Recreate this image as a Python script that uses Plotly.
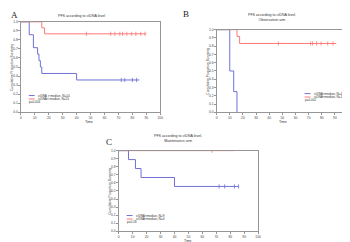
import plotly.graph_objects as go

# ---------------- data ----------------
# Panel A
a_hi_t = [0, 6, 9, 12, 13, 14, 15, 40, 85]
a_hi_s = [1.0, 0.857, 0.714, 0.643, 0.571, 0.5, 0.429, 0.357, 0.357]
a_hi_cens_t = [72, 74.5, 80, 83]
a_lo_t = [0, 15, 17, 90]
a_lo_s = [1.0, 0.933, 0.867, 0.867]
a_lo_cens_t = [47, 64.5, 67.5, 71, 73, 76, 79.5, 82.5, 86, 89]

# Panel B
b_hi_t = [0, 10, 13, 15.5]
b_hi_s = [1.0, 0.5, 0.25, 0.0]
b_lo_t = [0, 15.5, 17.5, 91]
b_lo_s = [1.0, 0.917, 0.833, 0.833]
b_lo_cens_t = [47, 71.5, 73, 76, 79.5, 84.5, 88.5]

# Panel C
c_hi_t = [0, 7, 12, 16, 40, 86]
c_hi_s = [1.0, 0.889, 0.778, 0.667, 0.556, 0.556]
c_hi_cens_t = [72, 76, 83, 86]
c_lo_t = [0, 83]
c_lo_s = [1.0, 1.0]
c_lo_cens_t = [67]

x_ticks = list(range(0, 101, 10))
y_ticks = [round(i / 10, 1) for i in range(0, 11)]

titles = ["PFS according to ctDNA level",
          "PFS according to ctDNA level,<br>Observation arm",
          "PFS according to ctDNA level,<br>Maintenance arm"]
legend_hi = ["ctDNA &gt; median, N=14", "ctDNA&gt;median, N=4", "ctDNA&gt;median, N=9"]
legend_lo = ["ctDNA&lt; median, N=15", "ctDNA&lt;median, N=12", "ctDNA&lt;median, N=4"]
pvals = ["p=0.004", "p=0.002", "p=0.18"]
letters = ["A", "B", "C"]

BLUE = "rgb(112,112,214)"
RED = "rgb(255,120,120)"
W, H = 350, 242

fig = go.Figure()

# plot areas in pixels: (left, right, top, bottom)
areas = [(12, 153, 12, 104), (210, 343, 20, 104), (111, 252, 143, 225)]

def px(x):
    return x / W

def py(y):
    return 1 - y / H

panels = [
    (a_hi_t, a_hi_s, a_hi_cens_t, a_lo_t, a_lo_s, a_lo_cens_t),
    (b_hi_t, b_hi_s, [], b_lo_t, b_lo_s, b_lo_cens_t),
    (c_hi_t, c_hi_s, c_hi_cens_t, c_lo_t, c_lo_s, c_lo_cens_t),
]

def surv_at(ts, ss, t):
    v = ss[0]
    for ti, si in zip(ts, ss):
        if ti <= t:
            v = si
    return v

for i, (ht, hs, hc, lt, ls, lc) in enumerate(panels):
    sfx = "" if i == 0 else str(i + 1)
    xa, ya = "x" + sfx, "y" + sfx
    fig.add_trace(go.Scatter(x=ht, y=hs, mode="lines", line=dict(color=BLUE, width=1, shape="hv"),
                             xaxis=xa, yaxis=ya, showlegend=False))
    fig.add_trace(go.Scatter(x=lt, y=ls, mode="lines", line=dict(color=RED, width=1, shape="hv"),
                             xaxis=xa, yaxis=ya, showlegend=False))
    if hc:
        fig.add_trace(go.Scatter(x=hc, y=[surv_at(ht, hs, t) for t in hc], mode="markers",
                                 marker=dict(symbol="line-ns-open", size=3, color=BLUE,
                                             line=dict(color=BLUE, width=0.8)),
                                 xaxis=xa, yaxis=ya, showlegend=False))
    if lc:
        fig.add_trace(go.Scatter(x=lc, y=[surv_at(lt, ls, t) for t in lc], mode="markers",
                                 marker=dict(symbol="line-ns-open", size=3, color=RED,
                                             line=dict(color=RED, width=0.8)),
                                 xaxis=xa, yaxis=ya, showlegend=False))

    l, r, t, b = areas[i]
    axis_common = dict(showgrid=False, zeroline=False, showline=True, mirror=True,
                       linecolor="rgb(150,150,150)", linewidth=0.8, ticks="outside", ticklen=1.5,
                       tickcolor="rgb(150,150,150)", tickwidth=0.6,
                       tickfont=dict(size=3.3, family="Liberation Sans", color="#444"))
    fig.update_layout(**{
        "xaxis" + sfx: dict(domain=[px(l), px(r)], anchor=ya, range=[0, 100], tickvals=x_ticks,
                            **axis_common),
        "yaxis" + sfx: dict(domain=[py(b), py(t)], anchor=xa, range=[0, 1.0], tickvals=y_ticks,
                            tickformat=".1f", **axis_common),
    })

annos = []
def txt(x, y, s, size=3.6, xanchor="center", yanchor="middle", angle=0, family="Liberation Sans", color="#333"):
    annos.append(dict(x=px(x), y=py(y), xref="paper", yref="paper", text=s, showarrow=False,
                      xanchor=xanchor, yanchor=yanchor, textangle=angle, borderpad=0,
                      font=dict(size=size, family=family, color=color)))

# titles
txt(73, 6, titles[0])
txt(266, 8, titles[1])
txt(171, 131, titles[2])
# letters
txt(1, 5, letters[0], size=9, xanchor="left", family="Liberation Serif", color="#222")
txt(175, 4, letters[1], size=9, xanchor="left", family="Liberation Serif", color="#222")
txt(97, 134, letters[2], size=9, xanchor="left", family="Liberation Serif", color="#222")
# x titles
txt(81, 114, "Time")
txt(277, 114, "Time")
txt(181, 234.5, "Time", size=3.4)
# y titles
txt(3, 58, "Cumulative Proportion Surviving", size=3.3, angle=-90)
txt(201, 62, "Cumulative Proportion Surviving", size=3.3, angle=-90)
txt(102, 184, "Cumulative Proportion Surviving", size=3.3, angle=-90)

# legends: (line x0, x1, blue y, red y, text x, p x, p y)
legs = [(20, 26, 87, 90.5, 28, 19, 94), (299, 305, 85, 88.5, 308, 298, 92), (119, 125, 209, 212.5, 127, 118, 216)]
shapes = []
for i, (x0, x1, yb, yr, tx, pxx, pyy) in enumerate(legs):
    shapes.append(dict(type="line", xref="paper", yref="paper", x0=px(x0), x1=px(x1), y0=py(yb), y1=py(yb),
                       line=dict(color=BLUE, width=1)))
    shapes.append(dict(type="line", xref="paper", yref="paper", x0=px(x0), x1=px(x1), y0=py(yr), y1=py(yr),
                       line=dict(color=RED, width=1)))
    txt(tx, yb, legend_hi[i], size=3.1, xanchor="left")
    txt(tx, yr, legend_lo[i], size=3.1, xanchor="left")
    txt(pxx, pyy, pvals[i], size=3.1, xanchor="left")

fig.update_layout(width=W, height=H, margin=dict(l=0, r=0, t=0, b=0),
                  paper_bgcolor="white", plot_bgcolor="white",
                  annotations=annos, shapes=shapes, showlegend=False)

fig.write_html("out.html")
